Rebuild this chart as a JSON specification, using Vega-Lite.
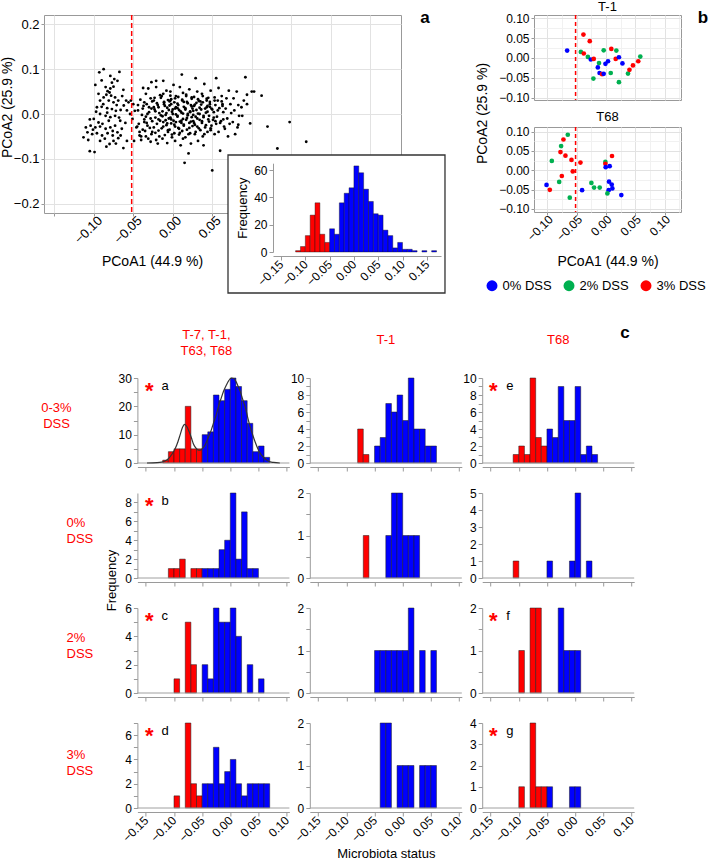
{
"$schema":"https://vega.github.io/schema/vega-lite/v6.json",
"padding":0,
"background":"white",
"config":{"font":"Liberation Sans","view":{"stroke":null},
"axis":{"labelFont":"Liberation Sans","titleFont":"Liberation Sans","labelColor":"#000","titleColor":"#000","titleFontWeight":"normal","domainColor":"#9a9a9a","tickColor":"#9a9a9a","grid":false,"labelFontSize":12,"titleFontSize":13,"labelOverlap":false,"labelSeparation":-40,"labelFlush":false},
"title":{"font":"Liberation Sans","fontWeight":"normal"},
"text":{"font":"Liberation Sans"}},
"spacing":29,
"vconcat":[
{"hconcat":[
{"width":357,"height":198,"view":{"stroke":"#999"},
"resolve":{"scale":{"x":"independent","y":"independent"}},
"layer":[
{"layer":[
{"data":{"values":[
{"x":-0.0875,"y":0.1},{"x":-0.093,"y":0.093},{"x":-0.098,"y":0.065},{"x":-0.079,"y":0.085},{"x":-0.074,"y":0.078},{"x":-0.0675,"y":0.094},{"x":-0.07,"y":0.074},{"x":-0.075,"y":0.061},{"x":-0.079,"y":0.057},{"x":-0.0825,"y":0.051},{"x":-0.084,"y":0.043},{"x":-0.078,"y":0.041},{"x":-0.073,"y":0.037},{"x":-0.0875,"y":0.037},{"x":-0.092,"y":0.03},{"x":-0.081,"y":0.03},{"x":-0.075,"y":0.026},{"x":-0.069,"y":0.03},{"x":-0.0625,"y":0.054},{"x":-0.059,"y":0.03},{"x":-0.062,"y":0.019},{"x":-0.056,"y":0.026},{"x":-0.096,"y":0.015},{"x":-0.09,"y":0.016},{"x":-0.083,"y":0.013},{"x":-0.077,"y":0.011},{"x":-0.072,"y":0.007},{"x":-0.066,"y":0.009},{"x":-0.092,"y":0},{"x":-0.085,"y":-0.004},{"x":-0.079,"y":-0.007},{"x":-0.073,"y":-0.004},{"x":-0.1,"y":-0.011},{"x":-0.094,"y":-0.019},{"x":-0.104,"y":-0.026},{"x":-0.098,"y":-0.03},{"x":-0.092,"y":-0.028},{"x":-0.085,"y":-0.033},{"x":-0.079,"y":-0.03},{"x":-0.073,"y":-0.026},{"x":-0.0665,"y":-0.015},{"x":-0.0645,"y":-0.033},{"x":-0.108,"y":-0.041},{"x":-0.102,"y":-0.045},{"x":-0.096,"y":-0.043},{"x":-0.0895,"y":-0.048},{"x":-0.0825,"y":-0.043},{"x":-0.076,"y":-0.048},{"x":-0.07,"y":-0.041},{"x":-0.113,"y":-0.052},{"x":-0.107,"y":-0.058},{"x":-0.092,"y":-0.06},{"x":-0.084,"y":-0.073},{"x":-0.08,"y":-0.067},{"x":-0.105,"y":-0.083},{"x":-0.099,"y":-0.085},{"x":-0.0625,"y":-0.076},{"x":-0.058,"y":-0.06},{"x":-0.069,"y":-0.054},{"x":-0.075,"y":-0.06},{"x":-0.085,"y":0.06},{"x":-0.08,"y":0.048},{"x":-0.088,"y":0.022},{"x":-0.071,"y":0.02},{"x":-0.064,"y":0.04},{"x":-0.097,"y":0.005},{"x":-0.081,"y":-0.015},{"x":-0.068,"y":-0.008},{"x":-0.089,"y":-0.022},{"x":-0.076,"y":-0.038},{"x":-0.101,"y":-0.035},{"x":-0.086,"y":-0.055},{"x":-0.066,"y":-0.048},{"x":-0.06,"y":-0.02},{"x":-0.058,"y":0.008},{"x":-0.083,"y":0.003},{"x":-0.094,"y":0.045},{"x":-0.077,"y":0.07},{"x":-0.09,"y":0.075},{"x":-0.105,"y":-0.012},{"x":-0.11,"y":-0.03},{"x":-0.072,"y":-0.066},{"x":-0.053,"y":0.03},{"x":-0.05,"y":0.022},{"x":-0.048,"y":0.007},{"x":-0.051,"y":-0.011},{"x":-0.046,"y":-0.03},{"x":-0.049,"y":-0.06},{"x":-0.054,"y":0},
{"x":-0.041,"y":0.032},{"x":-0.037,"y":0.018},{"x":-0.044,"y":0.008},{"x":-0.039,"y":-0.002},{"x":-0.036,"y":-0.012},{"x":-0.043,"y":-0.022},{"x":-0.038,"y":-0.035},{"x":-0.042,"y":-0.048},{"x":-0.04,"y":-0.058},{"x":-0.036,"y":0.026},{"x":-0.045,"y":-0.028},{"x":-0.0375,"y":0.058},
{"x":-0.031,"y":0.057},{"x":-0.034,"y":0.045},{"x":-0.028,"y":0.035},{"x":-0.033,"y":0.022},{"x":-0.027,"y":0.012},{"x":-0.03,"y":0.004},{"x":-0.034,"y":-0.006},{"x":-0.026,"y":-0.016},{"x":-0.032,"y":-0.026},{"x":-0.029,"y":-0.031},{"x":-0.035,"y":-0.038},{"x":-0.027,"y":-0.045},{"x":-0.031,"y":-0.055},{"x":-0.028,"y":-0.062},{"x":-0.026,"y":0.028},{"x":-0.033,"y":-0.02},{"x":-0.027,"y":0.071},
{"x":-0.021,"y":0.06},{"x":-0.016,"y":0.042},{"x":-0.024,"y":0.03},{"x":-0.019,"y":0.02},{"x":-0.023,"y":0.01},{"x":-0.017,"y":0.002},{"x":-0.022,"y":-0.008},{"x":-0.016,"y":-0.015},{"x":-0.02,"y":-0.022},{"x":-0.024,"y":-0.03},{"x":-0.018,"y":-0.037},{"x":-0.022,"y":-0.042},{"x":-0.017,"y":-0.05},{"x":-0.021,"y":-0.058},{"x":-0.019,"y":-0.066},{"x":-0.023,"y":0.036},{"x":-0.015,"y":-0.003},{"x":-0.018,"y":0.015},{"x":-0.021,"y":0.074},
{"x":-0.012,"y":0.074},{"x":-0.008,"y":0.052},{"x":-0.014,"y":0.04},{"x":-0.006,"y":0.031},{"x":-0.011,"y":0.022},{"x":-0.007,"y":0.014},{"x":-0.013,"y":0.006},{"x":-0.009,"y":-0.002},{"x":-0.005,"y":-0.01},{"x":-0.012,"y":-0.018},{"x":-0.008,"y":-0.025},{"x":-0.014,"y":-0.032},{"x":-0.006,"y":-0.04},{"x":-0.01,"y":-0.047},{"x":-0.013,"y":-0.055},{"x":-0.007,"y":-0.065},{"x":-0.011,"y":0.027},{"x":-0.005,"y":0.009},{"x":-0.009,"y":-0.014},{"x":-0.012,"y":0.045},
{"x":0.001,"y":0.065},{"x":-0.003,"y":0.05},{"x":0.004,"y":0.04},{"x":-0.002,"y":0.033},{"x":0.002,"y":0.026},{"x":-0.004,"y":0.019},{"x":0.003,"y":0.012},{"x":-0.001,"y":0.005},{"x":0.004,"y":-0.001},{"x":-0.003,"y":-0.008},{"x":0.001,"y":-0.015},{"x":-0.002,"y":-0.021},{"x":0.003,"y":-0.028},{"x":-0.004,"y":-0.035},{"x":0.002,"y":-0.043},{"x":-0.001,"y":-0.052},{"x":0.003,"y":-0.06},{"x":-0.002,"y":0.022},{"x":0,"y":0},{"x":0.004,"y":-0.018},{"x":-0.003,"y":0.03},
{"x":0.0115,"y":0.088},{"x":0.009,"y":0.06},{"x":0.013,"y":0.047},{"x":0.007,"y":0.038},{"x":0.012,"y":0.03},{"x":0.006,"y":0.023},{"x":0.014,"y":0.016},{"x":0.008,"y":0.009},{"x":0.011,"y":0.003},{"x":0.006,"y":-0.004},{"x":0.013,"y":-0.011},{"x":0.009,"y":-0.017},{"x":0.014,"y":-0.024},{"x":0.007,"y":-0.031},{"x":0.012,"y":-0.038},{"x":0.008,"y":-0.046},{"x":0.013,"y":-0.055},{"x":0.01,"y":-0.07},{"x":0.015,"y":-0.109},{"x":0.006,"y":0.013},{"x":0.011,"y":-0.02},{"x":0.014,"y":0.027},
{"x":0.021,"y":0.055},{"x":0.017,"y":0.043},{"x":0.024,"y":0.034},{"x":0.018,"y":0.027},{"x":0.023,"y":0.02},{"x":0.016,"y":0.013},{"x":0.022,"y":0.006},{"x":0.019,"y":0},{"x":0.024,"y":-0.007},{"x":0.017,"y":-0.013},{"x":0.021,"y":-0.02},{"x":0.025,"y":-0.027},{"x":0.018,"y":-0.035},{"x":0.022,"y":-0.043},{"x":0.016,"y":-0.052},{"x":0.02,"y":-0.088},{"x":0.024,"y":0.017},{"x":0.019,"y":-0.003},{"x":0.023,"y":-0.066},
{"x":0.029,"y":0.08},{"x":0.031,"y":0.05},{"x":0.027,"y":0.038},{"x":0.033,"y":0.029},{"x":0.028,"y":0.021},{"x":0.034,"y":0.014},{"x":0.026,"y":0.007},{"x":0.032,"y":0.001},{"x":0.029,"y":-0.006},{"x":0.034,"y":-0.013},{"x":0.027,"y":-0.02},{"x":0.031,"y":-0.028},{"x":0.035,"y":-0.036},{"x":0.028,"y":-0.045},{"x":0.032,"y":-0.06},{"x":0.03,"y":0.025},{"x":0.026,"y":-0.016},
{"x":0.04,"y":0.067},{"x":0.037,"y":0.045},{"x":0.043,"y":0.034},{"x":0.038,"y":0.026},{"x":0.044,"y":0.018},{"x":0.036,"y":0.01},{"x":0.042,"y":0.003},{"x":0.039,"y":-0.004},{"x":0.045,"y":-0.012},{"x":0.037,"y":-0.02},{"x":0.041,"y":-0.03},{"x":0.044,"y":-0.04},{"x":0.038,"y":-0.05},{"x":0.043,"y":0.015},{"x":0.039,"y":-0.07},
{"x":0.055,"y":0.08},{"x":0.048,"y":0.052},{"x":0.053,"y":0.037},{"x":0.047,"y":0.027},{"x":0.054,"y":0.02},{"x":0.049,"y":0.012},{"x":0.052,"y":0.004},{"x":0.046,"y":-0.004},{"x":0.051,"y":-0.013},{"x":0.055,"y":-0.022},{"x":0.048,"y":-0.032},{"x":0.053,"y":-0.045},{"x":0.05,"y":-0.126},{"x":0.047,"y":0.016},
{"x":0.058,"y":0.058},{"x":0.062,"y":0.04},{"x":0.057,"y":0.03},{"x":0.063,"y":0.022},{"x":0.059,"y":0.013},{"x":0.064,"y":0.004},{"x":0.056,"y":-0.006},{"x":0.061,"y":-0.016},{"x":0.065,"y":-0.028},{"x":0.058,"y":-0.04},{"x":0.06,"y":-0.082},{"x":0.063,"y":0.018},
{"x":0.071,"y":0.052},{"x":0.068,"y":0.035},{"x":0.073,"y":0.022},{"x":0.067,"y":0.012},{"x":0.074,"y":0.002},{"x":0.069,"y":-0.01},{"x":0.072,"y":-0.022},{"x":0.066,"y":-0.033},{"x":0.07,"y":-0.05},
{"x":0.081,"y":0.05},{"x":0.077,"y":0.035},{"x":0.083,"y":0.02},{"x":0.078,"y":0.008},{"x":0.084,"y":-0.004},{"x":0.076,"y":-0.018},{"x":0.082,"y":-0.03},{"x":0.079,"y":-0.045},{"x":0.083,"y":-0.024},
{"x":0.092,"y":0.082},{"x":0.094,"y":0.043},{"x":0.1,"y":0.05},{"x":0.094,"y":0.022},{"x":0.088,"y":-0.004},{"x":0.098,"y":-0.021},{"x":0.09,"y":0.03},{"x":0.087,"y":0.015},
{"x":0.1125,"y":0.041},{"x":0.103,"y":0.05},{"x":0.12,"y":-0.028},{"x":0.148,"y":-0.018},{"x":0.169,"y":-0.062},{"x":0.1325,"y":-0.077},
{"x":-0.022,"y":0.006},{"x":-0.018,"y":-0.012},{"x":-0.02,"y":0.024},{"x":-0.012,"y":-0.028},{"x":-0.01,"y":0.018},{"x":-0.008,"y":0.002},{"x":-0.006,"y":-0.036},{"x":-0.004,"y":0.028},{"x":-0.002,"y":-0.012},{"x":0,"y":0.01},{"x":0.002,"y":-0.024},{"x":0.003,"y":0.035},{"x":0.006,"y":-0.006},{"x":0.007,"y":0.02},{"x":0.008,"y":-0.033},{"x":0.01,"y":0.006},{"x":0.011,"y":-0.015},{"x":0.012,"y":0.032},{"x":0.014,"y":-0.026},{"x":0.016,"y":0.01},{"x":0.018,"y":-0.009},{"x":0.019,"y":0.024},{"x":0.021,"y":-0.031},{"x":0.022,"y":0.004},{"x":0.023,"y":-0.017},{"x":0.024,"y":0.037},{"x":0.026,"y":-0.002},{"x":0.027,"y":0.018},{"x":0.028,"y":-0.024},{"x":0.03,"y":0.009},{"x":0.031,"y":-0.01},{"x":0.032,"y":0.033},{"x":0.033,"y":-0.032},{"x":0.034,"y":0},{"x":0.036,"y":0.021},{"x":0.037,"y":-0.016},{"x":0.038,"y":0.04},{"x":0.039,"y":-0.007},{"x":0.041,"y":0.012},{"x":0.042,"y":-0.025},{"x":0.043,"y":0.03},{"x":0.044,"y":0.005},{"x":0.046,"y":-0.017},{"x":0.047,"y":0.022},{"x":0.048,"y":-0.036},{"x":0.05,"y":0.01},{"x":0.052,"y":-0.008},{"x":0.053,"y":0.03},{"x":-0.026,"y":-0.04},{"x":-0.024,"y":0.015},{"x":-0.015,"y":0.036},{"x":-0.013,"y":-0.005},{"x":-0.011,"y":0.026},{"x":-0.007,"y":-0.021},{"x":-0.003,"y":0.041},{"x":-0.001,"y":-0.046},{"x":0.004,"y":0.015},{"x":0.009,"y":-0.042},{"x":0.013,"y":0.001},{"x":0.017,"y":0.04},{"x":0.02,"y":-0.045},{"x":0.025,"y":0.012},{"x":0.029,"y":-0.04},{"x":0.035,"y":0.028},{"x":0.04,"y":-0.045},{"x":0.045,"y":0.036},{"x":0.049,"y":-0.026},{"x":0.054,"y":-0.016},{"x":0.057,"y":0.008},{"x":0.06,"y":-0.02},{"x":0.062,"y":0.028},{"x":0.064,"y":-0.012},{"x":-0.032,"y":0},{"x":-0.03,"y":0.015},{"x":-0.028,"y":-0.01},{"x":-0.036,"y":-0.018},{"x":-0.038,"y":0.012},{"x":-0.042,"y":-0.04},{"x":-0.044,"y":0.02},{"x":-0.04,"y":-0.05},{"x":-0.034,"y":-0.05}
]},
"mark":{"type":"point","filled":true,"size":8,"color":"#000","opacity":1},
"encoding":{
"x":{"field":"x","type":"quantitative","scale":{"domain":[-0.163,0.289],"nice":false,"zero":false},
"axis":{"values":[-0.15,-0.125,-0.1,-0.075,-0.05,-0.025,0,0.025,0.05,0.075,0.1,0.125,0.15,0.175,0.2,0.225,0.25,0.275],"format":".2f","labelExpr":"datum.value > -0.12 && abs(datum.value*20-round(datum.value*20))<0.001 ? datum.label : ''","labelOverlap":false,"labelSeparation":-40,"labelAngle":-45,"labelAlign":"right","labelBaseline":"middle","labelFontSize":13,"labelPadding":2,"labelOffset":6,"grid":true,"gridColor":{"condition":{"test":"abs(datum.value*20-round(datum.value*20))<0.001","value":"#e2e2e2"},"value":"#f1f1f1"},"tickSize":3,"tickOpacity":{"condition":{"test":"abs(datum.value*20-round(datum.value*20))<0.001","value":1},"value":0},"domain":false,"title":"PCoA1 (44.9 %)","titleFontSize":14,"titleX":108,"titleY":48,"titleBaseline":"middle","titleAlign":"center"}},
"y":{"field":"y","type":"quantitative","scale":{"domain":[-0.221,0.221],"nice":false,"zero":false},
"axis":{"values":[-0.2,-0.15,-0.1,-0.05,0,0.05,0.1,0.15,0.2],"format":".1f","labelExpr":"abs(datum.value*10-round(datum.value*10))<0.001 ? datum.label : ''","labelOverlap":false,"labelSeparation":-40,"labelFontSize":13,"grid":true,"gridColor":{"condition":{"test":"abs(datum.value*10-round(datum.value*10))<0.001","value":"#e2e2e2"},"value":"#f1f1f1"},"tickSize":3,"tickOpacity":{"condition":{"test":"abs(datum.value*10-round(datum.value*10))<0.001","value":1},"value":0},"domain":false,"title":"PCoA2 (25.9 %)","titleFontSize":14,"titleX":-36.5,"titleY":92,"titleBaseline":"middle","titleAlign":"center","titleAngle":-90}}}},
{"data":{"values":[{}]},"mark":{"type":"rule","color":"#ff0000","strokeDash":[5,3],"strokeWidth":1.5},"encoding":{"x":{"datum":-0.052}}},
{"data":{"values":[{}]},"mark":{"type":"text","fontSize":17,"fontWeight":"bold","align":"center","baseline":"middle"},"encoding":{"x":{"datum":0.3193},"y":{"datum":0.2154},"text":{"value":"a"}}}
]},
{"layer":[
{"data":{"values":[{}]},"mark":{"type":"rect","fill":"#ffffff","stroke":"#333333","strokeWidth":1.3},"encoding":{"x":{"datum":-0.2591},"x2":{"datum":0.1874},"y":{"datum":71},"y2":{"datum":-30}}},
{"data":{"values":[
{"start":-0.12,"end":-0.11,"count":1,"status":"dysbiotic"},{"start":-0.11,"end":-0.1,"count":4,"status":"dysbiotic"},{"start":-0.1,"end":-0.09,"count":12,"status":"dysbiotic"},{"start":-0.09,"end":-0.08,"count":27,"status":"dysbiotic"},{"start":-0.08,"end":-0.07,"count":36,"status":"dysbiotic"},{"start":-0.07,"end":-0.06,"count":13,"status":"dysbiotic"},{"start":-0.06,"end":-0.05,"count":7,"status":"dysbiotic"},
{"start":-0.05,"end":-0.04,"count":17,"status":"normal"},{"start":-0.04,"end":-0.03,"count":13,"status":"normal"},{"start":-0.03,"end":-0.02,"count":36,"status":"normal"},{"start":-0.02,"end":-0.01,"count":43,"status":"normal"},{"start":-0.01,"end":0,"count":47,"status":"normal"},{"start":0,"end":0.01,"count":63,"status":"normal"},{"start":0.01,"end":0.02,"count":58,"status":"normal"},{"start":0.02,"end":0.03,"count":46,"status":"normal"},{"start":0.03,"end":0.04,"count":37,"status":"normal"},{"start":0.04,"end":0.05,"count":28,"status":"normal"},{"start":0.05,"end":0.06,"count":27,"status":"normal"},{"start":0.06,"end":0.07,"count":16,"status":"normal"},{"start":0.07,"end":0.08,"count":12,"status":"normal"},{"start":0.08,"end":0.09,"count":3,"status":"normal"},{"start":0.09,"end":0.1,"count":7,"status":"normal"},{"start":0.1,"end":0.11,"count":2,"status":"normal"},{"start":0.11,"end":0.12,"count":2,"status":"normal"},{"start":0.12,"end":0.13,"count":1,"status":"normal"},{"start":0.14,"end":0.15,"count":1,"status":"normal"},{"start":0.16,"end":0.17,"count":1,"status":"normal"}
]},
"mark":{"type":"rect","stroke":"#111111","strokeWidth":0.4},
"encoding":{
"x":{"field":"start","type":"quantitative","scale":{"domain":[-0.1665,0.1792],"range":[229,397],"nice":false,"zero":false},"axis":{"orient":"bottom","offset":43,"values":[-0.15,-0.1,-0.05,0,0.05,0.1,0.15],"format":".2f","labelOverlap":false,"labelSeparation":-40,"labelAngle":-45,"labelAlign":"right","labelBaseline":"middle","labelFontSize":12,"tickSize":4,"title":null,"zindex":1,"grid":false}},
"x2":{"field":"end"},
"y":{"field":"count","type":"quantitative","scale":{"domain":[0,65],"range":[237,148.2],"nice":false,"zero":false},"axis":{"orient":"left","offset":-229,"values":[0,20,40,60],"labelOverlap":false,"labelSeparation":-40,"labelFontSize":12,"tickSize":4,"title":"Frequency","titleFontSize":13,"zindex":1,"grid":false}},
"y2":{"datum":0},
"fill":{"field":"status","type":"nominal","scale":{"domain":["dysbiotic","normal"],"range":["#ff0000","#0000ff"]},"legend":null}}}
]}
]},
{"vconcat":[
{"width":147,"height":85,"view":{"stroke":"#999"},
"title":{"text":"T-1","fontSize":13,"offset":-5,"frame":"group"},
"resolve":{"scale":{"x":"independent","y":"independent"}},
"layer":[
{"data":{"values":[
{"x":-0.0664,"y":0.0185,"group":"0% DSS"},{"x":-0.0386,"y":0.0588,"group":"3% DSS"},{"x":-0.0278,"y":0.042,"group":"3% DSS"},{"x":-0.043,"y":0.015,"group":"2% DSS"},{"x":-0.038,"y":0.011,"group":"3% DSS"},{"x":-0.031,"y":0.0025,"group":"2% DSS"},{"x":-0.026,"y":-0.004,"group":"0% DSS"},{"x":-0.021,"y":-0.0025,"group":"3% DSS"},{"x":-0.012,"y":-0.013,"group":"2% DSS"},{"x":-0.014,"y":-0.024,"group":"0% DSS"},{"x":-0.011,"y":-0.038,"group":"0% DSS"},{"x":-0.0068,"y":-0.041,"group":"3% DSS"},{"x":-0.004,"y":-0.04,"group":"0% DSS"},{"x":-0.0216,"y":-0.052,"group":"2% DSS"},{"x":-0.004,"y":0.019,"group":"2% DSS"},{"x":-0.001,"y":-0.015,"group":"0% DSS"},{"x":0.0034,"y":-0.0084,"group":"0% DSS"},{"x":0.008,"y":-0.038,"group":"2% DSS"},{"x":0.009,"y":0.0227,"group":"3% DSS"},{"x":0.0176,"y":0.0185,"group":"2% DSS"},{"x":0.0165,"y":-0.0025,"group":"3% DSS"},{"x":0.022,"y":0.0017,"group":"0% DSS"},{"x":0.028,"y":-0.014,"group":"0% DSS"},{"x":0.022,"y":-0.061,"group":"2% DSS"},{"x":0.0375,"y":-0.0395,"group":"2% DSS"},{"x":0.04,"y":-0.03,"group":"3% DSS"},{"x":0.046,"y":-0.019,"group":"3% DSS"},{"x":0.055,"y":-0.0084,"group":"3% DSS"},{"x":0.0585,"y":0.0034,"group":"2% DSS"}
]},
"mark":{"type":"point","filled":true,"size":22,"opacity":1},
"encoding":{
"x":{"field":"x","type":"quantitative","scale":{"domain":[-0.123,0.128],"nice":false,"zero":false},"axis":{"values":[-0.1,-0.075,-0.05,-0.025,0,0.025,0.05,0.075,0.1,0.125],"labels":false,"ticks":false,"domain":false,"grid":true,"gridColor":{"condition":{"test":"abs(datum.value*20-round(datum.value*20))<0.001","value":"#e2e2e2"},"value":"#f1f1f1"},"title":null}},
"y":{"field":"y","type":"quantitative","scale":{"domain":[-0.106,0.108],"nice":false,"zero":false},"axis":{"values":[-0.1,-0.075,-0.05,-0.025,0,0.025,0.05,0.075,0.1],"format":".2f","labelExpr":"abs(datum.value*20-round(datum.value*20))<0.001 ? datum.label : ''","labelOverlap":false,"labelSeparation":-40,"grid":true,"gridColor":{"condition":{"test":"abs(datum.value*20-round(datum.value*20))<0.001","value":"#e2e2e2"},"value":"#f1f1f1"},"tickSize":3,"tickOpacity":{"condition":{"test":"abs(datum.value*20-round(datum.value*20))<0.001","value":1},"value":0},"domain":false,"labelFontSize":12,"title":"PCoA2 (25.9 %)","titleFontSize":14,"titleX":-52,"titleY":98,"titleBaseline":"middle","titleAlign":"center","titleAngle":-90}},
"color":{"field":"group","type":"nominal","scale":{"domain":["0% DSS","2% DSS","3% DSS"],"range":["#0000ff","#00b050","#ff0000"]},"legend":null}}},
{"layer":[
{"data":{"values":[{}]},"mark":{"type":"rule","color":"#ff0000","strokeDash":[4,3],"strokeWidth":1.5},"encoding":{"x":{"datum":-0.052,"scale":{"domain":[-0.123,0.128],"nice":false,"zero":false},"axis":null}}},
{"data":{"values":[{}]},"mark":{"type":"text","fontSize":17,"fontWeight":"bold","align":"center","baseline":"middle"},"encoding":{"x":{"datum":0.1655,"scale":{"domain":[-0.123,0.128],"nice":false,"zero":false},"axis":null},"y":{"datum":0.0992,"scale":{"domain":[-0.106,0.108],"nice":false,"zero":false},"axis":null},"text":{"value":"b"}}}
]}
]},
{"width":147,"height":85,"view":{"stroke":"#999"},
"title":{"text":"T68","fontSize":13,"offset":2,"frame":"group"},
"resolve":{"scale":{"x":"independent","y":"independent"}},
"layer":[
{"data":{"values":[
{"x":-0.0653,"y":0.092,"group":"2% DSS"},{"x":-0.0727,"y":0.0796,"group":"3% DSS"},{"x":-0.0767,"y":0.0626,"group":"2% DSS"},{"x":-0.0778,"y":0.047,"group":"3% DSS"},{"x":-0.0693,"y":0.0379,"group":"3% DSS"},{"x":-0.0926,"y":0.0243,"group":"2% DSS"},{"x":-0.059,"y":0.0268,"group":"3% DSS"},{"x":-0.0437,"y":0.02,"group":"3% DSS"},{"x":-0.0568,"y":-0.003,"group":"3% DSS"},{"x":-0.0755,"y":-0.0149,"group":"3% DSS"},{"x":-0.08,"y":-0.0302,"group":"2% DSS"},{"x":-0.1016,"y":-0.0379,"group":"0% DSS"},{"x":-0.096,"y":-0.0506,"group":"3% DSS"},{"x":-0.0619,"y":-0.071,"group":"2% DSS"},{"x":-0.0409,"y":-0.0515,"group":"0% DSS"},{"x":-0.025,"y":-0.0328,"group":"2% DSS"},{"x":-0.0204,"y":-0.0447,"group":"2% DSS"},{"x":-0.0108,"y":-0.0447,"group":"2% DSS"},{"x":-0.0011,"y":0.0217,"group":"2% DSS"},{"x":-0.0011,"y":0.0166,"group":"3% DSS"},{"x":-0.0006,"y":0.0081,"group":"0% DSS"},{"x":0.0062,"y":0.0106,"group":"0% DSS"},{"x":0.0102,"y":0.037,"group":"3% DSS"},{"x":0.0051,"y":-0.0294,"group":"0% DSS"},{"x":0.0097,"y":-0.037,"group":"0% DSS"},{"x":0.0108,"y":-0.047,"group":"0% DSS"},{"x":0.0045,"y":-0.0515,"group":"0% DSS"},{"x":0.0023,"y":-0.06,"group":"2% DSS"},{"x":0.0261,"y":-0.0643,"group":"0% DSS"}
]},
"mark":{"type":"point","filled":true,"size":22,"opacity":1},
"encoding":{
"x":{"field":"x","type":"quantitative","scale":{"domain":[-0.123,0.128],"nice":false,"zero":false},"axis":{"values":[-0.1,-0.075,-0.05,-0.025,0,0.025,0.05,0.075,0.1,0.125],"format":".2f","labelExpr":"abs(datum.value*20-round(datum.value*20))<0.001 ? datum.label : ''","labelOverlap":false,"labelSeparation":-40,"labelAngle":-45,"labelAlign":"right","labelBaseline":"middle","labelFontSize":12,"labelOffset":3,"tickSize":3,"tickOpacity":{"condition":{"test":"abs(datum.value*20-round(datum.value*20))<0.001","value":1},"value":0},"domain":false,"grid":true,"gridColor":{"condition":{"test":"abs(datum.value*20-round(datum.value*20))<0.001","value":"#e2e2e2"},"value":"#f1f1f1"},"title":"PCoA1 (44.9 %)","titleFontSize":14,"titleY":49,"titleBaseline":"middle"}},
"y":{"field":"y","type":"quantitative","scale":{"domain":[-0.108,0.112],"nice":false,"zero":false},"axis":{"values":[-0.1,-0.075,-0.05,-0.025,0,0.025,0.05,0.075,0.1],"format":".2f","labelExpr":"abs(datum.value*20-round(datum.value*20))<0.001 ? datum.label : ''","labelOverlap":false,"labelSeparation":-40,"grid":true,"gridColor":{"condition":{"test":"abs(datum.value*20-round(datum.value*20))<0.001","value":"#e2e2e2"},"value":"#f1f1f1"},"tickSize":3,"tickOpacity":{"condition":{"test":"abs(datum.value*20-round(datum.value*20))<0.001","value":1},"value":0},"domain":false,"labelFontSize":12,"title":null}},
"color":{"field":"group","type":"nominal","scale":{"domain":["0% DSS","2% DSS","3% DSS"],"range":["#0000ff","#00b050","#ff0000"]},"legend":{"orient":"none","legendX":-48.5,"legendY":152,"direction":"horizontal","columns":3,"title":null,"symbolType":"circle","symbolSize":120,"symbolStrokeWidth":0,"labelFontSize":13,"labelFont":"Liberation Sans","labelOffset":4,"columnPadding":10,"padding":0}}}},
{"data":{"values":[{}]},"mark":{"type":"rule","color":"#ff0000","strokeDash":[4,3],"strokeWidth":1.5},"encoding":{"x":{"datum":-0.052,"scale":{"domain":[-0.123,0.128],"nice":false,"zero":false},"axis":null}}}
]}
],"spacing":27,"bounds":"flush","resolve":{"scale":{"color":"independent"}}}
],"spacing":133,"bounds":"flush"},
{"concat":[
{"width":72.6,"height":85,"data":{"values":[{}]},"mark":{"type":"text","color":"#ff0000","fontSize":13,"align":"center","baseline":"top","lineHeight":16},"encoding":{"x":{"datum":0.172,"type":"quantitative","scale":{"domain":[0,1]},"axis":null},"y":{"datum":0.718,"type":"quantitative","scale":{"domain":[0,1]},"axis":null},"text":{"value":["0-3%","DSS"]}}},
{"width":152,"height":85,
"title":{"text":["T-7, T-1,","T63, T68"],"color":"#ff0000","fontSize":13,"lineHeight":16,"offset":14,"frame":"group","dx":-7},
"resolve":{"scale":{"x":"independent","y":"independent"}},
"layer":[
{"data":{"values":[{"start":-0.12,"end":-0.11,"count":1,"status":"dysbiotic"},{"start":-0.11,"end":-0.1,"count":4,"status":"dysbiotic"},{"start":-0.1,"end":-0.09,"count":5,"status":"dysbiotic"},{"start":-0.09,"end":-0.08,"count":5,"status":"dysbiotic"},{"start":-0.08,"end":-0.07,"count":20,"status":"dysbiotic"},{"start":-0.07,"end":-0.06,"count":5,"status":"dysbiotic"},{"start":-0.06,"end":-0.05,"count":5,"status":"dysbiotic"},{"start":-0.05,"end":-0.04,"count":10,"status":"normal"},{"start":-0.04,"end":-0.03,"count":11,"status":"normal"},{"start":-0.03,"end":-0.02,"count":24,"status":"normal"},{"start":-0.02,"end":-0.01,"count":22,"status":"normal"},{"start":-0.01,"end":0,"count":26,"status":"normal"},{"start":0,"end":0.01,"count":30,"status":"normal"},{"start":0.01,"end":0.02,"count":27,"status":"normal"},{"start":0.02,"end":0.03,"count":22,"status":"normal"},{"start":0.03,"end":0.04,"count":14,"status":"normal"},{"start":0.04,"end":0.05,"count":4,"status":"normal"},{"start":0.05,"end":0.06,"count":6,"status":"normal"},{"start":0.06,"end":0.07,"count":2,"status":"normal"}]},
"mark":{"type":"rect","stroke":"#1a1a1a","strokeWidth":0.5},
"encoding":{"x":{"field":"start","type":"quantitative","scale":{"domain":[-0.165,0.105],"nice":false,"zero":false},"axis":{"values":[-0.15,-0.1,-0.05,0,0.05,0.1],"labels":false,"tickSize":4,"offset":4,"title":null}},"x2":{"field":"end"},
"y":{"field":"count","type":"quantitative","scale":{"domain":[0,30],"nice":false},"axis":{"values":[0,5,10,15,20,25,30],"labelExpr":"datum.value % 10 == 0 ? datum.label : ''","labelOverlap":false,"labelSeparation":-40,"tickSize":4,"labelPadding":2,"title":null}},"y2":{"datum":0},
"fill":{"field":"status","type":"nominal","scale":{"domain":["dysbiotic","normal"],"range":["#ff0000","#0000ff"]},"legend":null}}},
{"layer":[
{"data":{"values":[{}]},"mark":{"type":"rule","color":"#a0a0a0"},"encoding":{"y":{"datum":0,"scale":{"domain":[0,30],"nice":false},"axis":null}}},
{"data":{"values":[{"x":-0.148,"y":0},{"x":-0.13,"y":0.1},{"x":-0.122,"y":0.3},{"x":-0.115,"y":0.8},{"x":-0.11,"y":1.5},{"x":-0.104,"y":3},{"x":-0.098,"y":5},{"x":-0.093,"y":7.5},{"x":-0.089,"y":10},{"x":-0.085,"y":12.5},{"x":-0.081,"y":13.6},{"x":-0.077,"y":12.8},{"x":-0.073,"y":11},{"x":-0.069,"y":8.8},{"x":-0.066,"y":7},{"x":-0.062,"y":5.5},{"x":-0.058,"y":4.7},{"x":-0.054,"y":4.5},{"x":-0.05,"y":5},{"x":-0.045,"y":6.3},{"x":-0.039,"y":9},{"x":-0.034,"y":11.5},{"x":-0.03,"y":14},{"x":-0.025,"y":17},{"x":-0.021,"y":20},{"x":-0.016,"y":23},{"x":-0.012,"y":25.3},{"x":-0.007,"y":27.5},{"x":-0.003,"y":29},{"x":0.002,"y":30},{"x":0.006,"y":29.8},{"x":0.01,"y":28.8},{"x":0.014,"y":27},{"x":0.018,"y":25},{"x":0.022,"y":22.5},{"x":0.027,"y":19.5},{"x":0.031,"y":16},{"x":0.035,"y":13},{"x":0.04,"y":9.8},{"x":0.044,"y":7.5},{"x":0.048,"y":5.5},{"x":0.053,"y":3.5},{"x":0.058,"y":2.2},{"x":0.065,"y":1},{"x":0.071,"y":0.4},{"x":0.077,"y":0.2},{"x":0.088,"y":0}]},
"mark":{"type":"line","color":"#333333","strokeWidth":1.2,"interpolate":"monotone"},"encoding":{"x":{"field":"x","type":"quantitative","scale":{"domain":[-0.165,0.105],"nice":false,"zero":false},"axis":null},"y":{"field":"y","type":"quantitative","scale":{"domain":[0,30],"nice":false},"axis":null}}},
{"data":{"values":[{}]},"mark":{"type":"text","color":"#ff0000","fontSize":22,"fontWeight":"bold","align":"center","baseline":"middle","dy":5},"encoding":{"x":{"datum":-0.1437,"axis":null},"y":{"datum":27.2,"axis":null},"text":{"value":"*"}}},
{"data":{"values":[{}]},"mark":{"type":"text","fontSize":13,"align":"left","baseline":"middle"},"encoding":{"x":{"datum":-0.1224,"axis":null},"y":{"datum":27.2,"axis":null},"text":{"value":"a"}}}
]}
]},
{"width":152,"height":85,
"title":{"text":"T-1","color":"#ff0000","fontSize":13,"offset":25,"frame":"group"},
"resolve":{"scale":{"x":"independent","y":"independent"}},
"layer":[
{"data":{"values":[{"start":-0.08,"end":-0.07,"count":4,"status":"dysbiotic"},{"start":-0.07,"end":-0.06,"count":1,"status":"dysbiotic"},{"start":-0.05,"end":-0.04,"count":2,"status":"normal"},{"start":-0.04,"end":-0.03,"count":3,"status":"normal"},{"start":-0.03,"end":-0.02,"count":7,"status":"normal"},{"start":-0.02,"end":-0.01,"count":6,"status":"normal"},{"start":-0.01,"end":0,"count":8,"status":"normal"},{"start":0,"end":0.01,"count":5,"status":"normal"},{"start":0.01,"end":0.02,"count":10,"status":"normal"},{"start":0.02,"end":0.03,"count":4,"status":"normal"},{"start":0.03,"end":0.04,"count":4,"status":"normal"},{"start":0.04,"end":0.05,"count":2,"status":"normal"},{"start":0.05,"end":0.06,"count":2,"status":"normal"}]},
"mark":{"type":"rect","stroke":"#1a1a1a","strokeWidth":0.5},
"encoding":{"x":{"field":"start","type":"quantitative","scale":{"domain":[-0.165,0.105],"nice":false,"zero":false},"axis":{"values":[-0.15,-0.1,-0.05,0,0.05,0.1],"labels":false,"tickSize":4,"offset":4,"title":null}},"x2":{"field":"end"},
"y":{"field":"count","type":"quantitative","scale":{"domain":[0,10],"nice":false},"axis":{"values":[0,1,2,3,4,5,6,7,8,9,10],"labelExpr":"datum.value % 2 == 0 ? datum.label : ''","labelOverlap":false,"labelSeparation":-40,"tickSize":4,"labelPadding":2,"title":null}},"y2":{"datum":0},
"fill":{"field":"status","type":"nominal","scale":{"domain":["dysbiotic","normal"],"range":["#ff0000","#0000ff"]},"legend":null}}},
{"data":{"values":[{}]},"mark":{"type":"rule","color":"#a0a0a0"},"encoding":{"y":{"datum":0,"scale":{"domain":[0,10],"nice":false},"axis":null}}}
]},
{"width":152,"height":85,
"title":{"text":"T68","color":"#ff0000","fontSize":13,"offset":25,"frame":"group"},
"resolve":{"scale":{"x":"independent","y":"independent"}},
"layer":[
{"data":{"values":[{"start":-0.11,"end":-0.1,"count":1,"status":"dysbiotic"},{"start":-0.1,"end":-0.09,"count":2,"status":"dysbiotic"},{"start":-0.09,"end":-0.08,"count":1,"status":"dysbiotic"},{"start":-0.08,"end":-0.07,"count":10,"status":"dysbiotic"},{"start":-0.07,"end":-0.06,"count":3,"status":"dysbiotic"},{"start":-0.06,"end":-0.05,"count":2,"status":"dysbiotic"},{"start":-0.05,"end":-0.04,"count":4,"status":"normal"},{"start":-0.04,"end":-0.03,"count":3,"status":"normal"},{"start":-0.03,"end":-0.02,"count":9,"status":"normal"},{"start":-0.02,"end":-0.01,"count":5,"status":"normal"},{"start":-0.01,"end":0,"count":5,"status":"normal"},{"start":0,"end":0.01,"count":9,"status":"normal"},{"start":0.01,"end":0.02,"count":1,"status":"normal"},{"start":0.02,"end":0.03,"count":2,"status":"normal"},{"start":0.03,"end":0.04,"count":1,"status":"normal"}]},
"mark":{"type":"rect","stroke":"#1a1a1a","strokeWidth":0.5},
"encoding":{"x":{"field":"start","type":"quantitative","scale":{"domain":[-0.165,0.105],"nice":false,"zero":false},"axis":{"values":[-0.15,-0.1,-0.05,0,0.05,0.1],"labels":false,"tickSize":4,"offset":4,"title":null}},"x2":{"field":"end"},
"y":{"field":"count","type":"quantitative","scale":{"domain":[0,10],"nice":false},"axis":{"values":[0,1,2,3,4,5,6,7,8,9,10],"labelExpr":"datum.value % 2 == 0 ? datum.label : ''","labelOverlap":false,"labelSeparation":-40,"tickSize":4,"labelPadding":2,"title":null}},"y2":{"datum":0},
"fill":{"field":"status","type":"nominal","scale":{"domain":["dysbiotic","normal"],"range":["#ff0000","#0000ff"]},"legend":null}}},
{"layer":[
{"data":{"values":[{}]},"mark":{"type":"rule","color":"#a0a0a0"},"encoding":{"y":{"datum":0,"scale":{"domain":[0,10],"nice":false},"axis":null}}},
{"data":{"values":[{}]},"mark":{"type":"text","color":"#ff0000","fontSize":22,"fontWeight":"bold","align":"center","baseline":"middle","dy":5},"encoding":{"x":{"datum":-0.1455,"scale":{"domain":[-0.165,0.105],"nice":false,"zero":false},"axis":null},"y":{"datum":9.06,"axis":null},"text":{"value":"*"}}},
{"data":{"values":[{}]},"mark":{"type":"text","fontSize":13,"align":"left","baseline":"middle"},"encoding":{"x":{"datum":-0.1224,"axis":null},"y":{"datum":9.06,"axis":null},"text":{"value":"e"}}}
]}
]},
{"width":72.6,"height":85,"data":{"values":[{}]},"mark":{"type":"text","color":"#ff0000","fontSize":13,"align":"left","baseline":"top","lineHeight":16},"encoding":{"x":{"datum":0.31,"type":"quantitative","scale":{"domain":[0,1]},"axis":null},"y":{"datum":0.718,"type":"quantitative","scale":{"domain":[0,1]},"axis":null},"text":{"value":["0%","DSS"]}}},
{"width":152,"height":85,
"resolve":{"scale":{"x":"independent","y":"independent"}},
"layer":[
{"data":{"values":[{"start":-0.11,"end":-0.1,"count":1,"status":"dysbiotic"},{"start":-0.1,"end":-0.09,"count":1,"status":"dysbiotic"},{"start":-0.09,"end":-0.08,"count":2,"status":"dysbiotic"},{"start":-0.07,"end":-0.06,"count":1,"status":"dysbiotic"},{"start":-0.06,"end":-0.05,"count":1,"status":"dysbiotic"},{"start":-0.05,"end":-0.04,"count":1,"status":"normal"},{"start":-0.04,"end":-0.03,"count":1,"status":"normal"},{"start":-0.03,"end":-0.02,"count":1,"status":"normal"},{"start":-0.02,"end":-0.01,"count":3,"status":"normal"},{"start":-0.01,"end":0,"count":4,"status":"normal"},{"start":0,"end":0.01,"count":9,"status":"normal"},{"start":0.01,"end":0.02,"count":2,"status":"normal"},{"start":0.02,"end":0.03,"count":7,"status":"normal"},{"start":0.03,"end":0.04,"count":1,"status":"normal"},{"start":0.04,"end":0.05,"count":1,"status":"normal"}]},
"mark":{"type":"rect","stroke":"#1a1a1a","strokeWidth":0.5},
"encoding":{"x":{"field":"start","type":"quantitative","scale":{"domain":[-0.165,0.105],"nice":false,"zero":false},"axis":{"values":[-0.15,-0.1,-0.05,0,0.05,0.1],"labels":false,"tickSize":4,"offset":4,"title":null}},"x2":{"field":"end"},
"y":{"field":"count","type":"quantitative","scale":{"domain":[0,9],"nice":false},"axis":{"values":[0,1,2,3,4,5,6,7,8],"labelExpr":"datum.value % 2 == 0 ? datum.label : ''","labelOverlap":false,"labelSeparation":-40,"tickSize":4,"labelPadding":2,"title":"Frequency","titleFontSize":13,"titleX":-26,"titleY":87,"titleAngle":-90,"titleBaseline":"middle","titleAlign":"center"}},"y2":{"datum":0},
"fill":{"field":"status","type":"nominal","scale":{"domain":["dysbiotic","normal"],"range":["#ff0000","#0000ff"]},"legend":null}}},
{"layer":[
{"data":{"values":[{}]},"mark":{"type":"rule","color":"#a0a0a0"},"encoding":{"y":{"datum":0,"scale":{"domain":[0,9],"nice":false},"axis":null}}},
{"data":{"values":[{}]},"mark":{"type":"text","color":"#ff0000","fontSize":22,"fontWeight":"bold","align":"center","baseline":"middle","dy":5},"encoding":{"x":{"datum":-0.1437,"scale":{"domain":[-0.165,0.105],"nice":false,"zero":false},"axis":null},"y":{"datum":8.15,"axis":null},"text":{"value":"*"}}},
{"data":{"values":[{}]},"mark":{"type":"text","fontSize":13,"align":"left","baseline":"middle"},"encoding":{"x":{"datum":-0.1224,"axis":null},"y":{"datum":8.15,"axis":null},"text":{"value":"b"}}}
]}
]},
{"width":152,"height":85,
"resolve":{"scale":{"x":"independent","y":"independent"}},
"layer":[
{"data":{"values":[{"start":-0.07,"end":-0.06,"count":1,"status":"dysbiotic"},{"start":-0.03,"end":-0.02,"count":1,"status":"normal"},{"start":-0.02,"end":-0.01,"count":2,"status":"normal"},{"start":-0.01,"end":0,"count":2,"status":"normal"},{"start":0,"end":0.01,"count":1,"status":"normal"},{"start":0.01,"end":0.02,"count":1,"status":"normal"},{"start":0.02,"end":0.03,"count":1,"status":"normal"}]},
"mark":{"type":"rect","stroke":"#1a1a1a","strokeWidth":0.5},
"encoding":{"x":{"field":"start","type":"quantitative","scale":{"domain":[-0.165,0.105],"nice":false,"zero":false},"axis":{"values":[-0.15,-0.1,-0.05,0,0.05,0.1],"labels":false,"tickSize":4,"offset":4,"title":null}},"x2":{"field":"end"},
"y":{"field":"count","type":"quantitative","scale":{"domain":[0,2],"nice":false},"axis":{"values":[0,0.5,1,1.5,2],"format":".0f","labelExpr":"datum.value % 1 == 0 ? datum.label : ''","labelOverlap":false,"labelSeparation":-40,"tickSize":4,"labelPadding":2,"title":null}},"y2":{"datum":0},
"fill":{"field":"status","type":"nominal","scale":{"domain":["dysbiotic","normal"],"range":["#ff0000","#0000ff"]},"legend":null}}},
{"data":{"values":[{}]},"mark":{"type":"rule","color":"#a0a0a0"},"encoding":{"y":{"datum":0,"scale":{"domain":[0,2],"nice":false},"axis":null}}}
]},
{"width":152,"height":85,
"resolve":{"scale":{"x":"independent","y":"independent"}},
"layer":[
{"data":{"values":[{"start":-0.11,"end":-0.1,"count":1,"status":"dysbiotic"},{"start":-0.05,"end":-0.04,"count":1,"status":"normal"},{"start":-0.01,"end":0,"count":1,"status":"normal"},{"start":0,"end":0.01,"count":5,"status":"normal"},{"start":0.02,"end":0.03,"count":1,"status":"normal"}]},
"mark":{"type":"rect","stroke":"#1a1a1a","strokeWidth":0.5},
"encoding":{"x":{"field":"start","type":"quantitative","scale":{"domain":[-0.165,0.105],"nice":false,"zero":false},"axis":{"values":[-0.15,-0.1,-0.05,0,0.05,0.1],"labels":false,"tickSize":4,"offset":4,"title":null}},"x2":{"field":"end"},
"y":{"field":"count","type":"quantitative","scale":{"domain":[0,5],"nice":false},"axis":{"values":[0,1,2,3,4,5],"labelOverlap":false,"labelSeparation":-40,"tickSize":4,"labelPadding":2,"title":null}},"y2":{"datum":0},
"fill":{"field":"status","type":"nominal","scale":{"domain":["dysbiotic","normal"],"range":["#ff0000","#0000ff"]},"legend":null}}},
{"data":{"values":[{}]},"mark":{"type":"rule","color":"#a0a0a0"},"encoding":{"y":{"datum":0,"scale":{"domain":[0,5],"nice":false},"axis":null}}}
]},
{"width":72.6,"height":85,"data":{"values":[{}]},"mark":{"type":"text","color":"#ff0000","fontSize":13,"align":"left","baseline":"top","lineHeight":16},"encoding":{"x":{"datum":0.31,"type":"quantitative","scale":{"domain":[0,1]},"axis":null},"y":{"datum":0.718,"type":"quantitative","scale":{"domain":[0,1]},"axis":null},"text":{"value":["2%","DSS"]}}},
{"width":152,"height":85,
"resolve":{"scale":{"x":"independent","y":"independent"}},
"layer":[
{"data":{"values":[{"start":-0.1,"end":-0.09,"count":1,"status":"dysbiotic"},{"start":-0.08,"end":-0.07,"count":5,"status":"dysbiotic"},{"start":-0.07,"end":-0.06,"count":2,"status":"dysbiotic"},{"start":-0.05,"end":-0.04,"count":2,"status":"normal"},{"start":-0.04,"end":-0.03,"count":1,"status":"normal"},{"start":-0.03,"end":-0.02,"count":6,"status":"normal"},{"start":-0.02,"end":-0.01,"count":5,"status":"normal"},{"start":-0.01,"end":0,"count":5,"status":"normal"},{"start":0,"end":0.01,"count":6,"status":"normal"},{"start":0.01,"end":0.02,"count":4,"status":"normal"},{"start":0.03,"end":0.04,"count":2,"status":"normal"},{"start":0.05,"end":0.06,"count":1,"status":"normal"}]},
"mark":{"type":"rect","stroke":"#1a1a1a","strokeWidth":0.5},
"encoding":{"x":{"field":"start","type":"quantitative","scale":{"domain":[-0.165,0.105],"nice":false,"zero":false},"axis":{"values":[-0.15,-0.1,-0.05,0,0.05,0.1],"labels":false,"tickSize":4,"offset":4,"title":null}},"x2":{"field":"end"},
"y":{"field":"count","type":"quantitative","scale":{"domain":[0,6],"nice":false},"axis":{"values":[0,1,2,3,4,5,6],"labelExpr":"datum.value % 2 == 0 ? datum.label : ''","labelOverlap":false,"labelSeparation":-40,"tickSize":4,"labelPadding":2,"title":null}},"y2":{"datum":0},
"fill":{"field":"status","type":"nominal","scale":{"domain":["dysbiotic","normal"],"range":["#ff0000","#0000ff"]},"legend":null}}},
{"layer":[
{"data":{"values":[{}]},"mark":{"type":"rule","color":"#a0a0a0"},"encoding":{"y":{"datum":0,"scale":{"domain":[0,6],"nice":false},"axis":null}}},
{"data":{"values":[{}]},"mark":{"type":"text","color":"#ff0000","fontSize":22,"fontWeight":"bold","align":"center","baseline":"middle","dy":5},"encoding":{"x":{"datum":-0.1437,"scale":{"domain":[-0.165,0.105],"nice":false,"zero":false},"axis":null},"y":{"datum":5.44,"axis":null},"text":{"value":"*"}}},
{"data":{"values":[{}]},"mark":{"type":"text","fontSize":13,"align":"left","baseline":"middle"},"encoding":{"x":{"datum":-0.1224,"axis":null},"y":{"datum":5.44,"axis":null},"text":{"value":"c"}}}
]}
]},
{"width":152,"height":85,
"resolve":{"scale":{"x":"independent","y":"independent"}},
"layer":[
{"data":{"values":[{"start":-0.05,"end":-0.04,"count":1,"status":"normal"},{"start":-0.04,"end":-0.03,"count":1,"status":"normal"},{"start":-0.03,"end":-0.02,"count":1,"status":"normal"},{"start":-0.02,"end":-0.01,"count":1,"status":"normal"},{"start":-0.01,"end":0,"count":1,"status":"normal"},{"start":0,"end":0.01,"count":1,"status":"normal"},{"start":0.01,"end":0.02,"count":2,"status":"normal"},{"start":0.03,"end":0.04,"count":1,"status":"normal"},{"start":0.05,"end":0.06,"count":1,"status":"normal"}]},
"mark":{"type":"rect","stroke":"#1a1a1a","strokeWidth":0.5},
"encoding":{"x":{"field":"start","type":"quantitative","scale":{"domain":[-0.165,0.105],"nice":false,"zero":false},"axis":{"values":[-0.15,-0.1,-0.05,0,0.05,0.1],"labels":false,"tickSize":4,"offset":4,"title":null}},"x2":{"field":"end"},
"y":{"field":"count","type":"quantitative","scale":{"domain":[0,2],"nice":false},"axis":{"values":[0,0.5,1,1.5,2],"format":".0f","labelExpr":"datum.value % 1 == 0 ? datum.label : ''","labelOverlap":false,"labelSeparation":-40,"tickSize":4,"labelPadding":2,"title":null}},"y2":{"datum":0},
"fill":{"field":"status","type":"nominal","scale":{"domain":["dysbiotic","normal"],"range":["#ff0000","#0000ff"]},"legend":null}}},
{"data":{"values":[{}]},"mark":{"type":"rule","color":"#a0a0a0"},"encoding":{"y":{"datum":0,"scale":{"domain":[0,2],"nice":false},"axis":null}}}
]},
{"width":152,"height":85,
"resolve":{"scale":{"x":"independent","y":"independent"}},
"layer":[
{"data":{"values":[{"start":-0.1,"end":-0.09,"count":1,"status":"dysbiotic"},{"start":-0.08,"end":-0.07,"count":2,"status":"dysbiotic"},{"start":-0.07,"end":-0.06,"count":2,"status":"dysbiotic"},{"start":-0.03,"end":-0.02,"count":2,"status":"normal"},{"start":-0.02,"end":-0.01,"count":1,"status":"normal"},{"start":-0.01,"end":0,"count":1,"status":"normal"},{"start":0,"end":0.01,"count":1,"status":"normal"}]},
"mark":{"type":"rect","stroke":"#1a1a1a","strokeWidth":0.5},
"encoding":{"x":{"field":"start","type":"quantitative","scale":{"domain":[-0.165,0.105],"nice":false,"zero":false},"axis":{"values":[-0.15,-0.1,-0.05,0,0.05,0.1],"labels":false,"tickSize":4,"offset":4,"title":null}},"x2":{"field":"end"},
"y":{"field":"count","type":"quantitative","scale":{"domain":[0,2],"nice":false},"axis":{"values":[0,0.5,1,1.5,2],"format":".0f","labelExpr":"datum.value % 1 == 0 ? datum.label : ''","labelOverlap":false,"labelSeparation":-40,"tickSize":4,"labelPadding":2,"title":null}},"y2":{"datum":0},
"fill":{"field":"status","type":"nominal","scale":{"domain":["dysbiotic","normal"],"range":["#ff0000","#0000ff"]},"legend":null}}},
{"layer":[
{"data":{"values":[{}]},"mark":{"type":"rule","color":"#a0a0a0"},"encoding":{"y":{"datum":0,"scale":{"domain":[0,2],"nice":false},"axis":null}}},
{"data":{"values":[{}]},"mark":{"type":"text","color":"#ff0000","fontSize":22,"fontWeight":"bold","align":"center","baseline":"middle","dy":5},"encoding":{"x":{"datum":-0.1455,"scale":{"domain":[-0.165,0.105],"nice":false,"zero":false},"axis":null},"y":{"datum":1.81,"axis":null},"text":{"value":"*"}}},
{"data":{"values":[{}]},"mark":{"type":"text","fontSize":13,"align":"left","baseline":"middle"},"encoding":{"x":{"datum":-0.1224,"axis":null},"y":{"datum":1.81,"axis":null},"text":{"value":"f"}}}
]}
]},
{"width":72.6,"height":85,"data":{"values":[{}]},"mark":{"type":"text","color":"#ff0000","fontSize":13,"align":"left","baseline":"top","lineHeight":16},"encoding":{"x":{"datum":0.31,"type":"quantitative","scale":{"domain":[0,1]},"axis":null},"y":{"datum":0.694,"type":"quantitative","scale":{"domain":[0,1]},"axis":null},"text":{"value":["3%","DSS"]}}},
{"width":152,"height":85,
"resolve":{"scale":{"x":"independent","y":"independent"}},
"layer":[
{"data":{"values":[{"start":-0.1,"end":-0.09,"count":1,"status":"dysbiotic"},{"start":-0.08,"end":-0.07,"count":7,"status":"dysbiotic"},{"start":-0.07,"end":-0.06,"count":2,"status":"dysbiotic"},{"start":-0.06,"end":-0.05,"count":1,"status":"dysbiotic"},{"start":-0.05,"end":-0.04,"count":2,"status":"normal"},{"start":-0.04,"end":-0.03,"count":2,"status":"normal"},{"start":-0.03,"end":-0.02,"count":5,"status":"normal"},{"start":-0.02,"end":-0.01,"count":2,"status":"normal"},{"start":-0.01,"end":0,"count":3,"status":"normal"},{"start":0,"end":0.01,"count":4,"status":"normal"},{"start":0.01,"end":0.02,"count":2,"status":"normal"},{"start":0.02,"end":0.03,"count":1,"status":"normal"},{"start":0.03,"end":0.04,"count":2,"status":"normal"},{"start":0.04,"end":0.05,"count":2,"status":"normal"},{"start":0.05,"end":0.06,"count":2,"status":"normal"},{"start":0.06,"end":0.07,"count":2,"status":"normal"}]},
"mark":{"type":"rect","stroke":"#1a1a1a","strokeWidth":0.5},
"encoding":{"x":{"field":"start","type":"quantitative","scale":{"domain":[-0.165,0.105],"nice":false,"zero":false},"axis":{"values":[-0.15,-0.1,-0.05,0,0.05,0.1],"format":".2f","labelOverlap":false,"labelSeparation":-40,"labelAngle":-45,"labelAlign":"right","labelBaseline":"middle","labelFontSize":12,"labelPadding":2,"tickSize":4,"offset":4,"title":null}},"x2":{"field":"end"},
"y":{"field":"count","type":"quantitative","scale":{"domain":[0,7],"nice":false},"axis":{"values":[0,1,2,3,4,5,6,7],"labelExpr":"datum.value % 2 == 0 ? datum.label : ''","labelOverlap":false,"labelSeparation":-40,"tickSize":4,"labelPadding":2,"title":null}},"y2":{"datum":0},
"fill":{"field":"status","type":"nominal","scale":{"domain":["dysbiotic","normal"],"range":["#ff0000","#0000ff"]},"legend":null}}},
{"layer":[
{"data":{"values":[{}]},"mark":{"type":"rule","color":"#a0a0a0"},"encoding":{"y":{"datum":0,"scale":{"domain":[0,7],"nice":false},"axis":null}}},
{"data":{"values":[{}]},"mark":{"type":"text","color":"#ff0000","fontSize":22,"fontWeight":"bold","align":"center","baseline":"middle","dy":5},"encoding":{"x":{"datum":-0.1437,"scale":{"domain":[-0.165,0.105],"nice":false,"zero":false},"axis":null},"y":{"datum":6.34,"axis":null},"text":{"value":"*"}}},
{"data":{"values":[{}]},"mark":{"type":"text","fontSize":13,"align":"left","baseline":"middle"},"encoding":{"x":{"datum":-0.1224,"axis":null},"y":{"datum":6.34,"axis":null},"text":{"value":"d"}}}
]}
]},
{"width":152,"height":85,
"resolve":{"scale":{"x":"independent","y":"independent"}},
"layer":[
{"data":{"values":[{"start":-0.04,"end":-0.03,"count":2,"status":"normal"},{"start":-0.03,"end":-0.02,"count":2,"status":"normal"},{"start":-0.01,"end":0,"count":1,"status":"normal"},{"start":0,"end":0.01,"count":1,"status":"normal"},{"start":0.01,"end":0.02,"count":1,"status":"normal"},{"start":0.03,"end":0.04,"count":1,"status":"normal"},{"start":0.04,"end":0.05,"count":1,"status":"normal"},{"start":0.05,"end":0.06,"count":1,"status":"normal"}]},
"mark":{"type":"rect","stroke":"#1a1a1a","strokeWidth":0.5},
"encoding":{"x":{"field":"start","type":"quantitative","scale":{"domain":[-0.165,0.105],"nice":false,"zero":false},"axis":{"values":[-0.15,-0.1,-0.05,0,0.05,0.1],"format":".2f","labelOverlap":false,"labelSeparation":-40,"labelAngle":-45,"labelAlign":"right","labelBaseline":"middle","labelFontSize":12,"labelPadding":2,"tickSize":4,"offset":4,"title":"Microbiota status","titleFontSize":13,"titlePadding":4}},"x2":{"field":"end"},
"y":{"field":"count","type":"quantitative","scale":{"domain":[0,2],"nice":false},"axis":{"values":[0,0.5,1,1.5,2],"format":".0f","labelExpr":"datum.value % 1 == 0 ? datum.label : ''","labelOverlap":false,"labelSeparation":-40,"tickSize":4,"labelPadding":2,"title":null}},"y2":{"datum":0},
"fill":{"field":"status","type":"nominal","scale":{"domain":["dysbiotic","normal"],"range":["#ff0000","#0000ff"]},"legend":null}}},
{"data":{"values":[{}]},"mark":{"type":"rule","color":"#a0a0a0"},"encoding":{"y":{"datum":0,"scale":{"domain":[0,2],"nice":false},"axis":null}}}
]},
{"width":152,"height":85,
"resolve":{"scale":{"x":"independent","y":"independent"}},
"layer":[
{"data":{"values":[{"start":-0.1,"end":-0.09,"count":1,"status":"dysbiotic"},{"start":-0.08,"end":-0.07,"count":4,"status":"dysbiotic"},{"start":-0.07,"end":-0.06,"count":1,"status":"dysbiotic"},{"start":-0.06,"end":-0.05,"count":1,"status":"dysbiotic"},{"start":-0.05,"end":-0.04,"count":1,"status":"normal"},{"start":-0.01,"end":0,"count":1,"status":"normal"},{"start":0,"end":0.01,"count":1,"status":"normal"}]},
"mark":{"type":"rect","stroke":"#1a1a1a","strokeWidth":0.5},
"encoding":{"x":{"field":"start","type":"quantitative","scale":{"domain":[-0.165,0.105],"nice":false,"zero":false},"axis":{"values":[-0.15,-0.1,-0.05,0,0.05,0.1],"format":".2f","labelOverlap":false,"labelSeparation":-40,"labelAngle":-45,"labelAlign":"right","labelBaseline":"middle","labelFontSize":12,"labelPadding":2,"tickSize":4,"offset":4,"title":null}},"x2":{"field":"end"},
"y":{"field":"count","type":"quantitative","scale":{"domain":[0,4],"nice":false},"axis":{"values":[0,1,2,3,4],"labelOverlap":false,"labelSeparation":-40,"tickSize":4,"labelPadding":2,"title":null}},"y2":{"datum":0},
"fill":{"field":"status","type":"nominal","scale":{"domain":["dysbiotic","normal"],"range":["#ff0000","#0000ff"]},"legend":null}}},
{"layer":[
{"data":{"values":[{}]},"mark":{"type":"rule","color":"#a0a0a0"},"encoding":{"y":{"datum":0,"scale":{"domain":[0,4],"nice":false},"axis":null}}},
{"data":{"values":[{}]},"mark":{"type":"text","color":"#ff0000","fontSize":22,"fontWeight":"bold","align":"center","baseline":"middle","dy":5},"encoding":{"x":{"datum":-0.1455,"scale":{"domain":[-0.165,0.105],"nice":false,"zero":false},"axis":null},"y":{"datum":3.62,"axis":null},"text":{"value":"*"}}},
{"data":{"values":[{}]},"mark":{"type":"text","fontSize":13,"align":"left","baseline":"middle"},"encoding":{"x":{"datum":-0.1224,"axis":null},"y":{"datum":3.62,"axis":null},"text":{"value":"g"}}}
]}
]}
],
"columns":4,"bounds":"flush","spacing":{"row":30,"column":20.4},
"title":{"text":"c","fontSize":17,"fontWeight":"bold","anchor":"end","offset":-13,"dx":-6}}
]
}
